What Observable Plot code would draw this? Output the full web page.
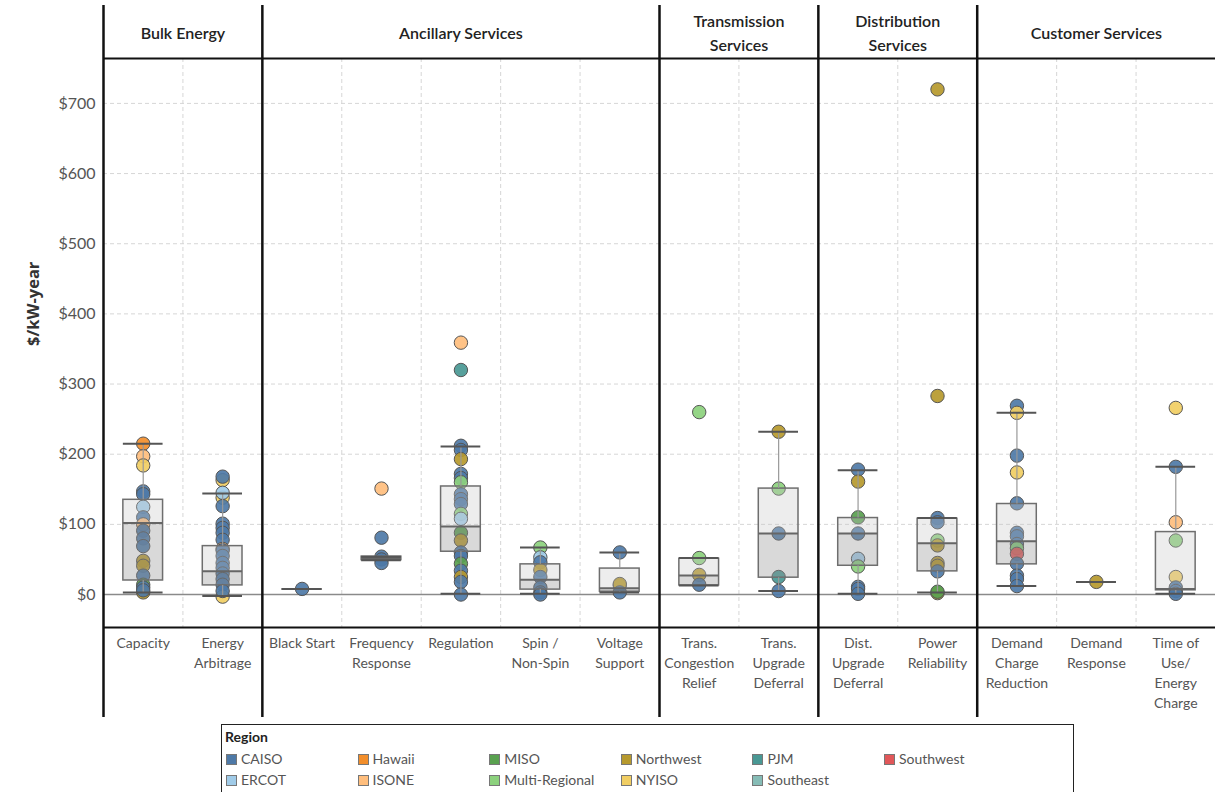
<!DOCTYPE html>
<html>
<head>
<meta charset="utf-8">
<script src="https://cdn.jsdelivr.net/npm/d3@7"></script>
<script src="https://cdn.jsdelivr.net/npm/@observablehq/plot@0.6"></script>
<style>
  body { margin: 0; background: #fff; font-family: Lato, "Noto Sans", sans-serif; }
  #wrap { position: relative; width: 1220px; height: 792px; overflow: hidden; }
  #chart svg { display: block; overflow: visible; }
  #legend { position: absolute; left: 221px; top: 724px; width: 853px; height: 80px;
            border: 1.5px solid #222; box-sizing: border-box; font-family: Lato, sans-serif; }
  #legend .title { position: absolute; left: 3px; top: 3px; font-size: 14px; font-weight: bold; color: #222; }
  #legend .item { position: absolute; font-size: 14px; color: #555; white-space: nowrap; line-height: 16px; }
  #legend .sw { display: inline-block; width: 9px; height: 9px; border: 1px solid #777; margin-right: 4px; vertical-align: -1px; }
</style>
</head>
<body>
<div id="wrap">
  <div id="chart"></div>
  <div id="legend"></div>
</div>
<script>
// ---------- DATA ----------
const groupNames = ["Bulk Energy", "Ancillary Services", "Transmission\nServices", "Distribution\nServices", "Customer Services"];
const groupSizes = [2, 5, 2, 2, 3];

const categories = [
  "Capacity", "Energy\nArbitrage",
  "Black Start", "Frequency\nResponse", "Regulation", "Spin /\nNon-Spin", "Voltage\nSupport",
  "Trans.\nCongestion\nRelief", "Trans.\nUpgrade\nDeferral",
  "Dist.\nUpgrade\nDeferral", "Power\nReliability",
  "Demand\nCharge\nReduction", "Demand\nResponse", "Time of\nUse/\nEnergy\nCharge"
];

const regions = ["CAISO", "ERCOT", "Hawaii", "ISONE", "MISO", "Multi-Regional", "Northwest", "NYISO", "PJM", "Southeast", "Southwest"];
const regionColors = ["#4e79a7", "#a0cbe8", "#f28e2b", "#ffbe7d", "#59a14f", "#8cd17d", "#b6992d", "#f1ce63", "#499894", "#86bcb6", "#e15759"];

const yTicks = [0, 100, 200, 300, 400, 500, 600, 700];
const yDomain = [-47, 764];

// points per category: [region, $/kW-year]
const capacity = [["Hawaii",215],["ISONE",197],["NYISO",184],["CAISO",147],["CAISO",143],["ERCOT",125],["CAISO",110],["ISONE",100],["CAISO",91],["CAISO",80],["CAISO",69],["Northwest",48],["Northwest",41],["CAISO",27],["MISO",14],["CAISO",10],["Northwest",3],["CAISO",6]];
const energyArbitrage = [["NYISO",163],["CAISO",168],["NYISO",138],["ERCOT",145],["CAISO",126],["CAISO",101],["CAISO",95],["CAISO",88],["CAISO",78],["ISONE",65],["CAISO",63],["CAISO",55],["CAISO",45],["CAISO",38],["CAISO",30],["CAISO",22],["CAISO",14],["NYISO",-3],["CAISO",5]];
const blackStart = [["CAISO",8]];
const frequencyResponse = [["ISONE",151],["CAISO",81],["CAISO",54],["CAISO",50],["CAISO",45]];
const regulation = [["ISONE",359],["PJM",320],["CAISO",212],["CAISO",206],["Northwest",193],["CAISO",172],["CAISO",166],["Multi-Regional",160],["CAISO",143],["CAISO",136],["CAISO",129],["Multi-Regional",115],["ERCOT",108],["MISO",88],["Northwest",77],["CAISO",60],["CAISO",55],["MISO",44],["CAISO",34],["Northwest",25],["CAISO",18],["CAISO",0]];
const spinNonSpin = [["Multi-Regional",67],["ERCOT",53],["CAISO",46],["Northwest",35],["CAISO",25],["CAISO",10],["CAISO",3],["CAISO",0]];
const voltageSupport = [["CAISO",60],["NYISO",13],["Northwest",15],["CAISO",3]];
const transCongestion = [["Multi-Regional",260],["Multi-Regional",52],["Northwest",28],["CAISO",14]];
const transUpgrade = [["Northwest",232],["Multi-Regional",151],["CAISO",87],["PJM",25],["CAISO",5]];
const distUpgrade = [["CAISO",178],["Northwest",161],["MISO",110],["CAISO",87],["ERCOT",51],["Multi-Regional",40],["CAISO",11],["CAISO",8],["CAISO",1]];
const powerReliability = [["Northwest",720],["Northwest",283],["CAISO",109],["CAISO",103],["Multi-Regional",77],["Northwest",70],["Northwest",45],["Northwest",41],["CAISO",33],["Northwest",2],["MISO",4]];
const demandCharge = [["CAISO",269],["NYISO",259],["CAISO",198],["NYISO",174],["CAISO",130],["CAISO",88],["CAISO",83],["CAISO",72],["Multi-Regional",66],["Southwest",58],["CAISO",44],["CAISO",27],["CAISO",22],["CAISO",12]];
const demandResponse = [["Northwest",18]];
const timeOfUse = [["NYISO",266],["CAISO",182],["ISONE",103],["Multi-Regional",77],["NYISO",25],["CAISO",10],["CAISO",5],["CAISO",1]];

const categoryPoints = [capacity, energyArbitrage, blackStart, frequencyResponse, regulation, spinNonSpin, voltageSupport,
  transCongestion, transUpgrade, distUpgrade, powerReliability, demandCharge, demandResponse, timeOfUse];

// box plot statistics (per category)
const boxLow    = [3,  -2, 8, 49,   1,  1,  3, 13,   5,   1,   3,  12, 18,   1];
const boxQ1     = [20, 13, 8, 49,  61,  7,  4, 13,  24,  41,  33,  43, 18,   6];
const boxMedian = [102,33, 8, 52,  97, 21,  9, 27,  87,  87,  73,  76, 18,   8];
const boxQ3     = [135,69, 8, 54, 154, 43, 37, 51, 151, 109, 108, 129, 18,  89];
const boxHigh   = [215,144,8, 54, 211, 67, 60, 52, 232, 177, 109, 259, 18, 182];

// ---------- BUILD TABLES ----------
const points = [];
categoryPoints.forEach((arr, i) => arr.forEach(([region, value]) => points.push({i, region, value})));
const boxes = categories.map((c, i) => ({i, low: boxLow[i], q1: boxQ1[i], med: boxMedian[i], q3: boxQ3[i], high: boxHigh[i]}));

const groupStarts = [];
let acc = 0;
groupSizes.forEach(s => { groupStarts.push(acc); acc += s; });
const groups = groupNames.map((name, k) => ({name, center: groupStarts[k] + groupSizes[k] / 2}));
const gridXs = d3.range(1, categories.length).filter(v => !groupStarts.includes(v));

const xc = d => d.i + 0.5;
const bx1 = d => d.i + 0.25;
const bx2 = d => d.i + 0.75;

const plot = Plot.plot({
  width: 1220, height: 722,
  marginLeft: 103, marginRight: 5, marginTop: 58, marginBottom: 95,
  x: {type: "linear", domain: [0, categories.length], axis: null},
  y: {domain: yDomain, axis: null},
  color: {domain: regions, range: regionColors},
  style: {fontFamily: "Lato, 'Noto Sans', sans-serif", overflow: "visible", background: "#fff"},
  marks: [
    Plot.ruleY(yTicks.filter(d => d !== 0), {stroke: "#d6d6d6", strokeDasharray: "4,3"}),
    Plot.ruleX(gridXs, {stroke: "#d6d6d6", strokeDasharray: "4,3"}),
    Plot.ruleY([0], {stroke: "#8a8a8a", strokeWidth: 1.3}),
    Plot.dot(points, {x: xc, y: "value", fill: "region", r: 6.7, stroke: "#555", strokeWidth: 1, fillOpacity: 0.92}),
    Plot.rect(boxes, {x1: bx1, x2: bx2, y1: "med", y2: "q3", fill: "#c4c4c4", fillOpacity: 0.3}),
    Plot.rect(boxes, {x1: bx1, x2: bx2, y1: "q1", y2: "med", fill: "#8f8f8f", fillOpacity: 0.34}),
    Plot.rect(boxes, {x1: bx1, x2: bx2, y1: "q1", y2: "q3", fill: "none", stroke: "#6e6e6e", strokeWidth: 1.5}),
    Plot.ruleX(boxes, {x: xc, y1: "q3", y2: "high", stroke: "#999", strokeWidth: 1.2}),
    Plot.ruleX(boxes, {x: xc, y1: "low", y2: "q1", stroke: "#999", strokeWidth: 1.2}),
    Plot.ruleY(boxes, {y: "med", x1: bx1, x2: bx2, stroke: "#666", strokeWidth: 2}),
    Plot.ruleY(boxes, {y: "high", x1: bx1, x2: bx2, stroke: "#555", strokeWidth: 2}),
    Plot.ruleY(boxes, {y: "low", x1: bx1, x2: bx2, stroke: "#555", strokeWidth: 2}),
    Plot.ruleY([yDomain[1], yDomain[0]], {stroke: "#111", strokeWidth: 2}),
    Plot.ruleX(groupStarts, {stroke: "#111", strokeWidth: 2.5, insetTop: -53, insetBottom: -90}),
    Plot.axisY({ticks: yTicks, tickFormat: d => "$" + d, tickSize: 0, tickPadding: 8, fontSize: 16, fill: "#555", label: null}),
    Plot.text(groups, {x: "center", text: "name", frameAnchor: "top", dy: -27, lineAnchor: "middle",
      fontSize: 16, fontWeight: 600, lineHeight: 1.5, fill: "#222"}),
    Plot.text(categories, {x: (d, i) => i + 0.5, text: d => d, frameAnchor: "bottom", dy: 6, lineAnchor: "top",
      fontSize: 14, lineHeight: 1.43, fill: "#555"}),
    Plot.text(["$/kW-year"], {text: d => d, frameAnchor: "left", dx: -70, dy: 3, rotate: -90,
      fontFamily: "'Open Sans', Lato, sans-serif", fontSize: 16.5, fontWeight: "bold", fill: "#333"})
  ]
});
document.getElementById("chart").appendChild(plot);

// ---------- LEGEND ----------
const legend = document.getElementById("legend");
const t = document.createElement("div");
t.className = "title"; t.textContent = "Region";
legend.appendChild(t);
regions.forEach((r, k) => {
  const col = Math.floor(k / 2), row = k % 2;
  const el = document.createElement("div");
  el.className = "item";
  el.style.left = (4 + col * 131.6) + "px";
  el.style.top = (26 + row * 21) + "px";
  const sw = document.createElement("span");
  sw.className = "sw"; sw.style.background = regionColors[k];
  el.appendChild(sw);
  el.appendChild(document.createTextNode(r));
  legend.appendChild(el);
});
</script>
</body>
</html>
